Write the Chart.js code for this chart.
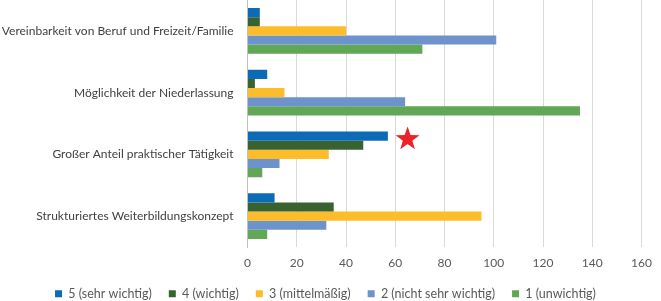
<!DOCTYPE html>
<html>
<head>
<meta charset="utf-8">
<script src="https://cdn.jsdelivr.net/npm/chart.js@4/dist/chart.umd.min.js"></script>
<style>
  html, body { margin: 0; padding: 0; background: #ffffff; }
  #wrap { width: 661px; height: 301px; position: relative; }
</style>
</head>
<body>
<div id="wrap"><canvas id="c"></canvas></div>
<script>
const categories = [
  "Vereinbarkeit von Beruf und Freizeit/Familie",
  "Möglichkeit der Niederlassung",
  "Großer Anteil praktischer Tätigkeit",
  "Strukturiertes Weiterbildungskonzept"
];
const seriesNames = [
  "5 (sehr wichtig)",
  "4 (wichtig)",
  "3 (mittelmäßig)",
  "2 (nicht sehr wichtig)",
  "1 (unwichtig)"
];
const sehrWichtig      = [5, 8, 57, 11];
const wichtig          = [5, 3, 47, 35];
const mittelmaessig    = [40, 15, 33, 95];
const nichtSehrWichtig = [101, 64, 13, 32];
const unwichtig        = [71, 135, 6, 8];
const xTicks = [0, 20, 40, 60, 80, 100, 120, 140, 160];
const starCategoryIndex = 2;
const starValue = 65;

const colors = ["#0B6BB7", "#386230", "#FDBC2A", "#6C93CC", "#62A755"];
const values = [sehrWichtig, wichtig, mittelmaessig, nichtSehrWichtig, unwichtig];

const FONT = "Lato, 'Liberation Sans', sans-serif";

const starPlugin = {
  id: "star",
  afterDatasetsDraw(chart) {
    const ctx = chart.ctx;
    const meta = chart.getDatasetMeta(0);
    const bar = meta.data[starCategoryIndex];
    const cx = chart.scales.x.getPixelForValue(starValue);
    const cy = bar.y + 3;
    const R = 12.5, r = R * 0.4;
    ctx.save();
    ctx.beginPath();
    for (let i = 0; i < 10; i++) {
      const rad = i % 2 === 0 ? R : r;
      const a = -Math.PI / 2 + i * Math.PI / 5;
      const px = cx + rad * Math.cos(a), py = cy + rad * Math.sin(a);
      if (i === 0) ctx.moveTo(px, py); else ctx.lineTo(px, py);
    }
    ctx.closePath();
    ctx.fillStyle = "#EC2329";
    ctx.fill();
    ctx.restore();
  }
};

new Chart(document.getElementById("c"), {
  type: "bar",
  data: {
    labels: categories,
    datasets: seriesNames.map((n, i) => ({
      label: n,
      data: values[i],
      backgroundColor: colors[i],
      borderWidth: 0,
      categoryPercentage: 0.74,
      barPercentage: 1.0
    }))
  },
  options: {
    indexAxis: "y",
    responsive: true,
    maintainAspectRatio: false,
    animation: false,
    layout: { padding: { top: 0, right: 10, left: 0, bottom: -9 } },
    scales: {
      x: {
        min: 0, max: 160,
        afterBuildTicks(scale) { scale.ticks = xTicks.map(v => ({ value: v })); },
        grid: { color: "#D9D9D9", lineWidth: 1, drawTicks: false },
        border: { display: false },
        ticks: { color: "#595959", font: { family: FONT, size: 12 }, padding: 9 },
        afterFit(scale) { scale.height = 23.5; }
      },
      y: {
        grid: { display: false, drawTicks: false },
        border: { display: true, color: "#BFBFBF", width: 1 },
        ticks: { color: "#404040", font: { family: FONT, size: 12 }, padding: 14 },
        afterFit(scale) {
          scale.width = 247.5;
          scale.paddingTop = 0;
          scale.paddingBottom = 0;
        }
      }
    },
    plugins: {
      legend: {
        position: "bottom",
        labels: {
          color: "#595959",
          font: { family: FONT, size: 12.5 },
          boxWidth: 7, boxHeight: 7,
          padding: 17
        }
      },
      tooltip: { enabled: false }
    }
  },
  plugins: [starPlugin]
});
</script>
</body>
</html>
